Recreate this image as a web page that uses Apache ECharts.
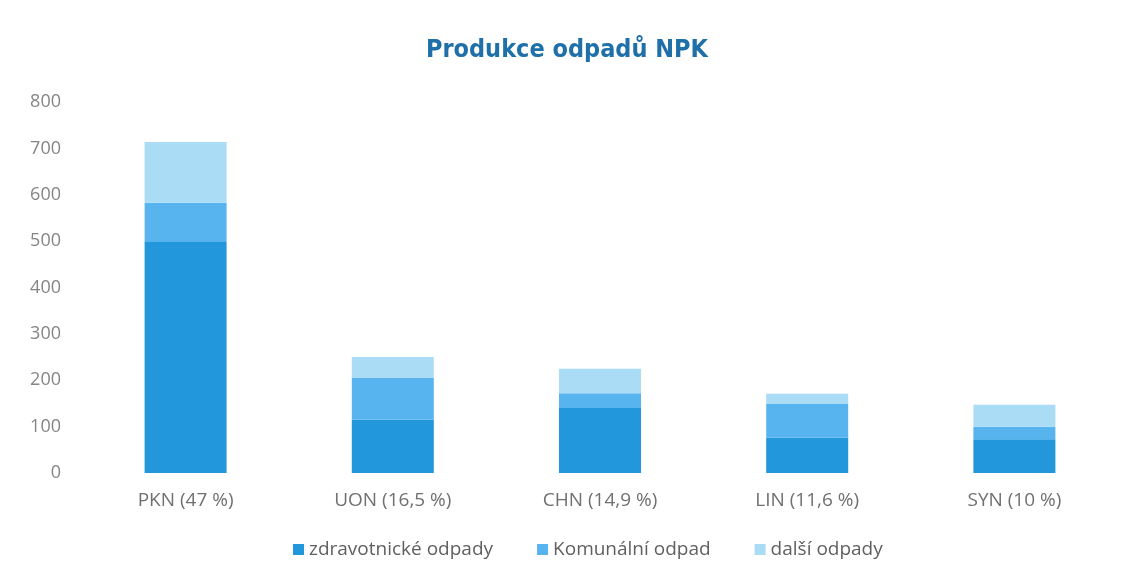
<!DOCTYPE html>
<html>
<head>
<meta charset="utf-8">
<script src="https://cdn.jsdelivr.net/npm/echarts@6/dist/echarts.min.js"></script>
<style>
html, body { margin: 0; padding: 0; background: #fff; }
#chart { width: 1134px; height: 580px; }
</style>
</head>
<body>
<div id="chart"></div>
<script>
var categories = ['PKN (47 %)', 'UON (16,5 %)', 'CHN (14,9 %)', 'LIN (11,6 %)', 'SYN (10 %)'];
var seriesNames = ['zdravotnické odpady', 'Komunální odpad', 'další odpady'];
var zdravotnicke = [500, 115, 140, 76, 73];
var komunalni = [83, 90, 32, 73, 27];
var dalsi = [131, 45, 53, 22, 47];
var yTicks = [0, 100, 200, 300, 400, 500, 600, 700, 800];

var colors = ['#2297db', '#58b4ee', '#abdcf5'];

var chart = echarts.init(document.getElementById('chart'));
var option = {
    animation: false,
    title: {
        text: 'Produkce odpadů NPK',
        left: 'center',
        top: 33,
        textStyle: {
            fontFamily: 'DejaVu Sans Condensed',
            fontWeight: 'bold',
            fontSize: 25,
            color: '#1f6fa9'
        }
    },
    legend: {
        data: seriesNames,
        bottom: 16,
        left: 288,
        itemWidth: 11,
        itemHeight: 11,
        itemGap: 44,
        icon: 'rect',
        textStyle: { fontFamily: 'Open Sans', fontSize: 19, color: '#606060' }
    },
    grid: { left: 82, right: 16, top: 102, bottom: 107 },
    xAxis: {
        type: 'category',
        data: categories,
        axisLine: { show: false },
        axisTick: { show: false },
        axisLabel: { fontFamily: 'Open Sans', fontSize: 19, color: '#707070', margin: 18 }
    },
    yAxis: {
        type: 'value',
        min: yTicks[0],
        max: yTicks[yTicks.length - 1],
        interval: 100,
        splitLine: { show: false },
        axisLine: { show: false },
        axisTick: { show: false },
        axisLabel: { fontFamily: 'Open Sans', fontSize: 18, color: '#858585', margin: 21 }
    },
    series: [
        { name: seriesNames[0], type: 'bar', stack: 'a', barWidth: 82, data: zdravotnicke, itemStyle: { color: colors[0] } },
        { name: seriesNames[1], type: 'bar', stack: 'a', barWidth: 82, data: komunalni, itemStyle: { color: colors[1] } },
        { name: seriesNames[2], type: 'bar', stack: 'a', barWidth: 82, data: dalsi, itemStyle: { color: colors[2] } }
    ]
};
chart.setOption(option);
</script>
</body>
</html>
